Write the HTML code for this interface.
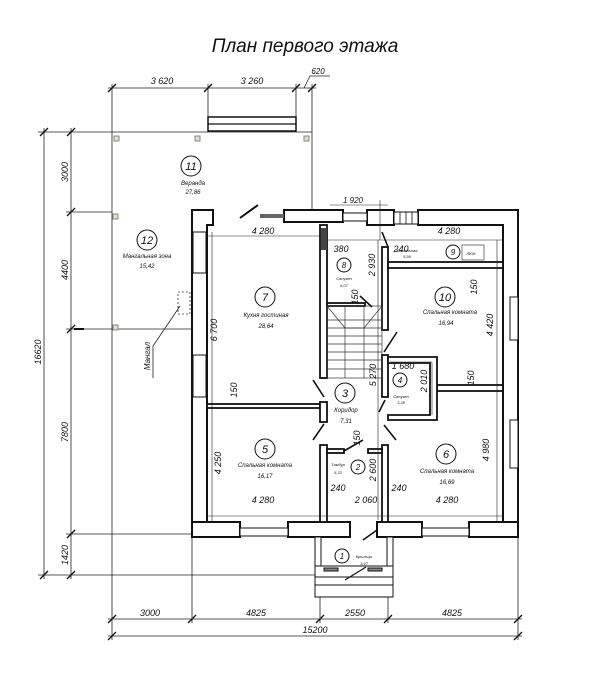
<!DOCTYPE html>
<html><head><meta charset="utf-8"><style>
html,body{margin:0;padding:0;background:#fff;}
svg{display:block;}
text{font-family:"Liberation Sans",sans-serif;font-style:italic;fill:#111;}
.d{font-size:9px;text-anchor:middle;}
.s{font-size:6px;text-anchor:middle;}
.t{font-size:4px;text-anchor:middle;}
.n{font-size:11px;text-anchor:middle;}
</style></head><body>
<svg width="600" height="680" viewBox="0 0 600 680" xmlns="http://www.w3.org/2000/svg">
<rect width="600" height="680" fill="#fff"/>
<text x="305" y="52" style="font-size:19px;text-anchor:middle">План первого этажа</text>

<g stroke="#222" stroke-width="0.8" fill="none">
<!-- top dims -->
<line x1="108" y1="88" x2="316" y2="88"/>
<line x1="112" y1="84" x2="112" y2="132"/><line x1="208" y1="84" x2="208" y2="118"/>
<line x1="296" y1="84" x2="296" y2="118"/><line x1="312" y1="84" x2="312" y2="210"/>
<path d="M304 88 L310 76 L330 76"/>
<!-- veranda -->
<line x1="38" y1="132" x2="312" y2="132"/>
<line x1="112" y1="132" x2="112" y2="640"/>
<line x1="66" y1="212" x2="112" y2="212"/>
<line x1="66" y1="329" x2="192" y2="329"/>
<line x1="66" y1="534" x2="192" y2="534"/>
<line x1="38" y1="575" x2="315" y2="575"/>
<!-- left dims -->
<line x1="44" y1="128" x2="44" y2="579"/>
<line x1="71" y1="128" x2="71" y2="579"/>
<!-- bottom dims -->
<line x1="108" y1="619" x2="522" y2="619"/>
<line x1="108" y1="636" x2="522" y2="636"/>
<line x1="192" y1="537" x2="192" y2="623"/>
<line x1="320" y1="537" x2="320" y2="623"/>
<line x1="388" y1="537" x2="388" y2="623"/>
<line x1="518" y1="537" x2="518" y2="640"/>
</g>
<g stroke="#111" stroke-width="1.3">
<line x1="108" y1="92" x2="116" y2="84"/><line x1="204" y1="92" x2="212" y2="84"/><line x1="292" y1="92" x2="300" y2="84"/><line x1="308" y1="92" x2="316" y2="84"/>
<line x1="40" y1="136" x2="48" y2="128"/><line x1="67" y1="136" x2="75" y2="128"/>
<line x1="67" y1="216" x2="75" y2="208"/><line x1="67" y1="333" x2="75" y2="325"/>
<line x1="67" y1="538" x2="75" y2="530"/><line x1="40" y1="579" x2="48" y2="571"/><line x1="67" y1="579" x2="75" y2="571"/>
<line x1="108" y1="623" x2="116" y2="615"/><line x1="188" y1="623" x2="196" y2="615"/><line x1="316" y1="623" x2="324" y2="615"/><line x1="384" y1="623" x2="392" y2="615"/><line x1="514" y1="623" x2="522" y2="615"/>
<line x1="108" y1="640" x2="116" y2="632"/><line x1="514" y1="640" x2="522" y2="632"/>
<line x1="74" y1="329" x2="84" y2="329" stroke-width="2"/>
</g>
<!-- veranda top bar -->
<rect x="208" y="117" width="88" height="14" fill="#fff" stroke="#111" stroke-width="1.5"/>
<line x1="208" y1="124" x2="296" y2="124" stroke="#111" stroke-width="1.2"/>
<g fill="#ddd" stroke="#887" stroke-width="1">
<rect x="114" y="136" width="5" height="5"/><rect x="195" y="136" width="5" height="5"/><rect x="304" y="136" width="5" height="5"/>
<rect x="113" y="214" width="5" height="5"/><rect x="113" y="325" width="5" height="5"/>
</g>
<!-- mangal -->
<rect x="178" y="292" width="12" height="22" fill="none" stroke="#333" stroke-width="0.8" stroke-dasharray="2,2"/>
<path d="M180 306 L153 346 L153 378" fill="none" stroke="#222" stroke-width="0.8"/>
<text x="150" y="356" transform="rotate(-90 150 356)" class="s" style="font-size:8px">Мангал</text>

<!-- house walls -->
<g fill="#fff" stroke="#111" stroke-width="2">
<path d="M192 210 H213 V225 H207 V537 H192 Z"/>
<rect x="284" y="210" width="59" height="12"/>
<rect x="367" y="210" width="27" height="15"/>
<path d="M418 210 H518 V537 H503 V225 H418 Z"/>
<path d="M192 522 H240 V537 H192 Z"/>
<path d="M288 522 H350 V537 H288 Z"/>
<path d="M377 522 H422 V537 H377 Z"/>
<path d="M469 522 H518 V537 H469 Z"/>
</g>
<!-- windows -->
<g fill="#fff" stroke="#111" stroke-width="1">
<rect x="193" y="232" width="13" height="41"/><rect x="193" y="355" width="13" height="42"/>
<rect x="240" y="528" width="48" height="8"/><rect x="422" y="528" width="47" height="8"/>
<rect x="510" y="297" width="8" height="43"/><rect x="510" y="420" width="8" height="48"/>
<rect x="343" y="213" width="24" height="8"/>
<rect x="394" y="212" width="24" height="12"/>
</g>
<g stroke="#111" stroke-width="0.8"><line x1="400" y1="212" x2="400" y2="224"/><line x1="406" y1="212" x2="406" y2="224"/><line x1="412" y1="212" x2="412" y2="224"/></g>
<rect x="260" y="214" width="24" height="4" fill="#666"/>
<line x1="240" y1="218" x2="258" y2="205" stroke="#111" stroke-width="2"/>
<!-- interior walls -->
<g fill="#fff" stroke="#111" stroke-width="1.8">
<rect x="320" y="225" width="7" height="153"/>
<rect x="382" y="247" width="6" height="83"/>
<rect x="382" y="355" width="6" height="42"/>
<rect x="382" y="445" width="6" height="77"/>
<rect x="388" y="262" width="115" height="6"/>
<rect x="437" y="385" width="66" height="6"/>
<rect x="207" y="404" width="113" height="4"/>
<rect x="320" y="402" width="7" height="20"/>
<rect x="320" y="445" width="7" height="77"/>
<rect x="327" y="449" width="17" height="4"/>
<rect x="368" y="449" width="14" height="4"/>
<path d="M388 357 H437 V420 H388 V415 H430 V363 H388 Z"/>
<rect x="327" y="303" width="38" height="3"/>
</g>
<!-- stairs -->
<g stroke="#333" stroke-width="0.7" fill="none">
<rect x="327" y="306" width="55" height="72"/>
<line x1="345" y1="306" x2="345" y2="378"/><line x1="364" y1="306" x2="364" y2="378"/>
<line x1="327" y1="320" x2="382" y2="320"/><line x1="327" y1="328" x2="382" y2="328"/><line x1="327" y1="336" x2="382" y2="336"/><line x1="327" y1="344" x2="382" y2="344"/><line x1="327" y1="352" x2="382" y2="352"/><line x1="327" y1="360" x2="382" y2="360"/><line x1="327" y1="369" x2="382" y2="369"/>
<path d="M327 306 L345 328 L364 328 L382 306"/>
</g>
<rect x="321" y="228" width="6" height="22" fill="#444"/>
<!-- doors -->
<g stroke="#111" stroke-width="1.6">
<line x1="324" y1="397" x2="313" y2="380"/><line x1="324" y1="424" x2="313" y2="440"/>
<line x1="384" y1="352" x2="397" y2="332"/><line x1="385" y1="400" x2="379" y2="412"/>
<line x1="384" y1="425" x2="396" y2="440"/><line x1="344" y1="451" x2="363" y2="440"/>
<line x1="377" y1="530" x2="363" y2="540"/><line x1="388" y1="247" x2="382" y2="232"/>
<line x1="360" y1="296" x2="372" y2="307"/>
</g>
<!-- porch -->
<g fill="#fff" stroke="#111" stroke-width="1">
<rect x="315" y="537" width="6" height="40"/><rect x="387" y="537" width="6" height="40"/>
<rect x="315" y="566" width="78" height="11"/>
<rect x="315" y="577" width="78" height="8"/>
<rect x="315" y="585" width="78" height="12"/>
<rect x="324" y="568" width="14" height="3" fill="#888"/><rect x="368" y="568" width="14" height="3" fill="#888"/>
</g>
<line x1="345" y1="580" x2="366" y2="567" stroke="#111" stroke-width="1.2"/>
<!-- interior dim lines -->
<g stroke="#222" stroke-width="0.6" fill="none">
<line x1="207" y1="236" x2="320" y2="236"/><line x1="212" y1="232" x2="212" y2="522"/>
<line x1="327" y1="240" x2="503" y2="240"/><line x1="330" y1="205" x2="388" y2="205"/><line x1="380" y1="200" x2="380" y2="240"/>
<line x1="378" y1="240" x2="378" y2="520"/><line x1="497" y1="240" x2="497" y2="522"/>
<line x1="207" y1="516" x2="503" y2="516"/>
<line x1="390" y1="362" x2="432" y2="362"/><line x1="432" y1="362" x2="432" y2="415"/>
</g>
<!-- labels -->
<g>
<circle cx="191" cy="166" r="10" fill="none" stroke="#111"/><text x="191" y="170" class="n">11</text>
<text x="193" y="185" class="s">Веранда</text><text x="193" y="194" class="s">27,86</text>
<circle cx="147" cy="240" r="10" fill="none" stroke="#111"/><text x="147" y="244" class="n">12</text>
<text x="147" y="258" class="s">Мангальная зона</text><text x="147" y="268" class="s">15,42</text>
<circle cx="265" cy="297" r="10" fill="none" stroke="#111"/><text x="265" y="301" class="n">7</text>
<text x="266" y="317" class="s">Кухня гостиная</text><text x="266" y="328" class="s">28,64</text>
<circle cx="344" cy="265" r="7" fill="none" stroke="#111"/><text x="344" y="268" class="s" style="font-size:8px">8</text>
<text x="344" y="280" class="t">Санузел</text><text x="344" y="287" class="t">6,07</text>
<circle cx="453" cy="252" r="7" fill="none" stroke="#111"/><text x="453" y="255" class="s" style="font-size:8px">9</text>
<text x="407" y="252" class="t">Котельная</text><text x="407" y="258" class="t">5,99</text>
<rect x="462" y="245" width="22" height="15" fill="none" stroke="#222" stroke-width="0.6"/><text x="471" y="255" class="t">ЛЮК</text>
<circle cx="445" cy="297" r="10" fill="none" stroke="#111"/><text x="445" y="301" class="n">10</text>
<text x="450" y="314" class="s">Спальная комната</text><text x="446" y="325" class="s">16,94</text>
<circle cx="345" cy="393" r="10" fill="none" stroke="#111"/><text x="345" y="397" class="n">3</text>
<text x="346" y="412" class="s">Коридор</text><text x="346" y="423" class="s">7,31</text>
<circle cx="400" cy="380" r="7" fill="none" stroke="#111"/><text x="400" y="383" class="s" style="font-size:8px">4</text>
<text x="401" y="398" class="t">Санузел</text><text x="401" y="404" class="t">3,38</text>
<circle cx="265" cy="449" r="10" fill="none" stroke="#111"/><text x="265" y="453" class="n">5</text>
<text x="265" y="467" class="s">Спальная комната</text><text x="265" y="478" class="s">16,17</text>
<circle cx="358" cy="467" r="7" fill="none" stroke="#111"/><text x="358" y="470" class="s" style="font-size:8px">2</text>
<text x="338" y="466" class="t">Тамбур</text><text x="338" y="474" class="t">5,32</text>
<circle cx="446" cy="454" r="10" fill="none" stroke="#111"/><text x="446" y="458" class="n">6</text>
<text x="447" y="473" class="s">Спальная комната</text><text x="447" y="484" class="s">16,69</text>
<circle cx="342" cy="556" r="7" fill="none" stroke="#111"/><text x="342" y="559" class="s" style="font-size:8px">1</text>
<text x="364" y="558" class="t">Крыльцо</text><text x="364" y="565" class="t">3,97</text>
</g>
<!-- dim texts -->
<g>
<text x="162" y="84" class="d">3 620</text><text x="252" y="84" class="d">3 260</text><text x="318" y="74" class="s" style="font-size:8px">620</text>
<text x="353" y="203" class="s" style="font-size:8px">1 920</text>
<text x="263" y="234" class="d">4 280</text><text x="449" y="234" class="d">4 280</text>
<text x="341" y="252" class="d">380</text><text x="401" y="252" class="d">240</text>
<text x="403" y="369" class="d">1 680</text>
<text x="263" y="503" class="d">4 280</text><text x="338" y="491" class="d">240</text><text x="366" y="503" class="d">2 060</text>
<text x="399" y="491" class="d">240</text><text x="447" y="503" class="d">4 280</text>
<text x="150" y="616" class="d">3000</text><text x="256" y="616" class="d">4825</text><text x="355" y="616" class="d">2550</text><text x="452" y="616" class="d">4825</text>
<text x="315" y="633" class="d">15200</text>
<g class="d">
<text x="68" y="172" transform="rotate(-90 68 172)">3000</text>
<text x="68" y="270" transform="rotate(-90 68 270)">4400</text>
<text x="68" y="432" transform="rotate(-90 68 432)">7800</text>
<text x="68" y="555" transform="rotate(-90 68 555)">1420</text>
<text x="41" y="352" transform="rotate(-90 41 352)">16620</text>
<text x="217" y="330" transform="rotate(-90 217 330)">6 700</text>
<text x="237" y="390" transform="rotate(-90 237 390)">150</text>
<text x="221" y="463" transform="rotate(-90 221 463)">4 250</text>
<text x="375" y="265" transform="rotate(-90 375 265)">2 930</text>
<text x="358" y="297" transform="rotate(-90 358 297)">150</text>
<text x="376" y="375" transform="rotate(-90 376 375)">5 270</text>
<text x="427" y="381" transform="rotate(-90 427 381)">2 010</text>
<text x="477" y="287" transform="rotate(-90 477 287)">150</text>
<text x="493" y="325" transform="rotate(-90 493 325)">4 420</text>
<text x="474" y="378" transform="rotate(-90 474 378)">150</text>
<text x="489" y="450" transform="rotate(-90 489 450)">4 980</text>
<text x="360" y="438" transform="rotate(-90 360 438)">150</text>
<text x="376" y="470" transform="rotate(-90 376 470)">2 600</text>
</g>
</g>
</svg>
</body></html>
